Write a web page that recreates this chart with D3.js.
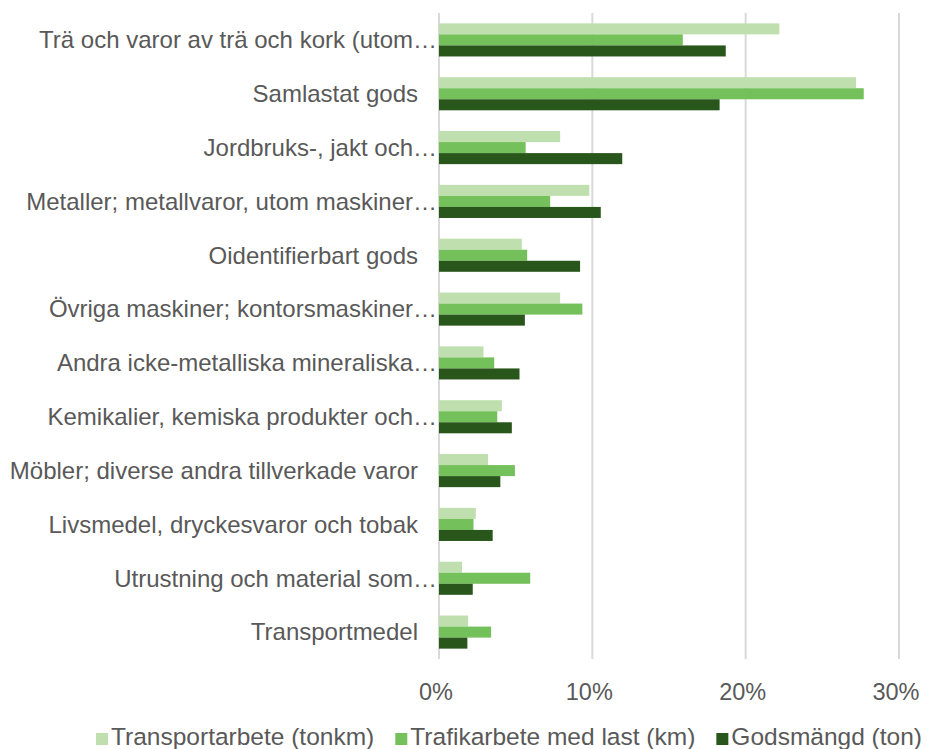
<!DOCTYPE html>
<meta charset="utf-8">
<style>
body { margin: 0; background: #fff; }
text {
  font-family: "Liberation Sans", Arial, sans-serif;
  fill: #595959;
}
.grid line {
  stroke: #d9d9d9;
  stroke-width: 2px;
}
</style>
<svg></svg>
<script src="https://d3js.org/d3.v7.min.js"></script>
<script>

var categories = [
  "Trä och varor av trä och kork (utom…",
  "Samlastat gods",
  "Jordbruks-, jakt och…",
  "Metaller; metallvaror, utom maskiner…",
  "Oidentifierbart gods",
  "Övriga maskiner; kontorsmaskiner…",
  "Andra icke-metalliska mineraliska…",
  "Kemikalier, kemiska produkter och…",
  "Möbler; diverse andra tillverkade varor",
  "Livsmedel, dryckesvaror och tobak",
  "Utrustning och material som…",
  "Transportmedel"
];

var seriesNames = ["Transportarbete (tonkm)", "Trafikarbete med last (km)", "Godsmängd (ton)"];
var seriesColors = ["#bfe0ae", "#74c05a", "#29561b"];

// andel i procent
var transportarbete = [22.2, 27.2, 7.9, 9.8, 5.4, 7.9, 2.9, 4.1, 3.2, 2.4, 1.5, 1.9];
var trafikarbete    = [15.9, 27.7, 5.65, 7.25, 5.75, 9.35, 3.6, 3.8, 4.95, 2.25, 5.95, 3.4];
var godsmangd       = [18.7, 18.3, 11.95, 10.55, 9.2, 5.6, 5.25, 4.75, 4.0, 3.5, 2.2, 1.85];

var xTicks = [0, 10, 20, 30];

var width = 927, height = 749;
var svg = d3.select("svg").attr("width", width).attr("height", height);

var x = d3.scaleLinear().domain([0, 30]).range([439, 899]);
var y = d3.scaleBand().domain(categories).range([13, 659]).paddingInner(0.385).paddingOuter(0.1925);
var ySub = d3.scaleBand().domain([0, 1, 2]).range([0, y.bandwidth()]);

var values = [transportarbete, trafikarbete, godsmangd];

// gridlines
svg.append("g")
  .attr("class", "grid")
  .selectAll("line")
  .data(xTicks)
  .enter().append("line")
  .attr("x1", function(d) { return x(d); })
  .attr("x2", function(d) { return x(d); })
  .attr("y1", 13)
  .attr("y2", 659);

// bars
var groups = svg.append("g")
  .selectAll("g")
  .data(categories)
  .enter().append("g")
  .attr("transform", function(d) { return "translate(0," + y(d) + ")"; });

groups.selectAll("rect")
  .data(function(d, i) { return values.map(function(s, j) { return { s: j, v: s[i] }; }); })
  .enter().append("rect")
  .attr("x", x(0))
  .attr("y", function(d) { return ySub(d.s); })
  .attr("height", ySub.bandwidth())
  .attr("width", function(d) { return x(d.v) - x(0); })
  .attr("fill", function(d) { return seriesColors[d.s]; });

// category labels
svg.append("g")
  .selectAll("text")
  .data(categories)
  .enter().append("text")
  .attr("x", function(d) { return d.slice(-1) == "…" ? 437 : 418; })
  .attr("y", function(d) { return y(d) + y.bandwidth() / 2; })
  .attr("dy", "0.35em")
  .attr("text-anchor", "end")
  .style("font-size", "24px")
  .text(function(d) { return d; });

// x axis labels
svg.append("g")
  .selectAll("text")
  .data(xTicks)
  .enter().append("text")
  .attr("x", function(d) { return x(d) - 3; })
  .attr("y", 700)
  .attr("text-anchor", "middle")
  .style("font-size", "23.5px")
  .text(function(d) { return d + "%"; });

// legend, spread between x=96 and x=922
var legend = svg.append("g");
var items = legend.selectAll("g")
  .data(seriesNames)
  .enter().append("g");

items.append("rect")
  .attr("width", 12)
  .attr("height", 12)
  .attr("y", 733)
  .attr("fill", function(d, i) { return seriesColors[i]; });

items.append("text")
  .attr("x", 15)
  .attr("y", 745)
  .style("font-size", "24.5px")
  .text(function(d) { return d; });

var widths = [];
items.each(function() {
  widths.push(15 + d3.select(this).select("text").node().getComputedTextLength());
});
var gap = (922 - 96 - d3.sum(widths)) / (widths.length - 1);
var offs = [], pos = 96;
widths.forEach(function(w) { offs.push(pos); pos += w + gap; });
items.attr("transform", function(d, i) { return "translate(" + offs[i] + ",0)"; });

</script>
